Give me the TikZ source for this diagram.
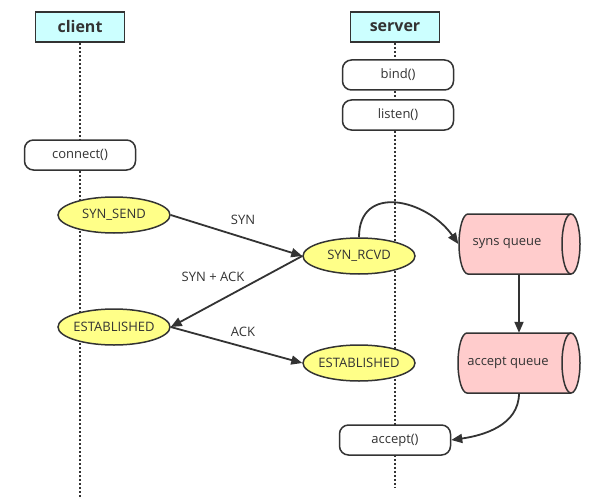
\documentclass[tikz,border=0pt]{standalone}
\usepackage{fontspec}
\setmainfont{Open Sans}
\usetikzlibrary{arrows.meta,shapes.geometric,backgrounds}
\definecolor{ink}{HTML}{333333}
\definecolor{headcyan}{HTML}{CCFFFF}
\definecolor{stateyellow}{HTML}{FFFF88}
\definecolor{queuepink}{HTML}{FFCCCC}
\begin{document}
\begin{tikzpicture}[x=1pt,y=-1pt,
  font=\fontsize{13}{15}\selectfont, text=ink,
  head/.style={draw=ink, line width=1.8pt, fill=headcyan, minimum width=89pt, minimum height=30pt, inner sep=0pt, font=\fontsize{16}{18}\selectfont\bfseries},
  call/.style={draw=ink, line width=1.5pt, fill=white, rounded corners=9pt, minimum width=111pt, minimum height=30pt, inner sep=0pt},
  state/.style={ellipse, draw=ink, line width=1.5pt, fill=stateyellow, minimum width=112pt, minimum height=36pt, inner xsep=-5pt, inner ysep=0pt},
  qbox/.style={minimum width=121pt, minimum height=60pt, inner sep=0pt},
  queue/.style={draw=ink, line width=1.5pt, fill=queuepink},
  msg/.style={draw=ink, line width=1.8pt, -{Triangle[length=11pt,width=9pt]}},
  life/.style={draw=ink, line width=1.8pt, dash pattern=on 1.8pt off 2.2pt},
  lbl/.style={inner sep=1pt}]
\useasboundingbox (0,0) rectangle (612,500);

% lifeline headers
\node[head] (client) at (80,27) {client};
\node[head] (server) at (395,27) {server};

% calls
\node[call] (bind) at (398,75) {bind()};
\node[call] (listen) at (398,115) {listen()};
\node[call] (connect) at (80,155) {connect()};
\node[call] (accept) at (395,440) {accept()};

% states
\node[state] (ssend) at (114,215) {SYN\_SEND};
\node[state] (rcvd) at (359,256) {SYN\_RCVD};
\node[state] (cest) at (114,327) {ESTABLISHED};
\node[state] (sest) at (359,363) {ESTABLISHED};

% queues
\node[qbox] (synsq) at (519,244) {};
\node[qbox] (accq) at (519,363) {};
\filldraw[queue] (468,214) -- (571,214) arc[start angle=90,end angle=-90,x radius=9pt,y radius=30pt]
  -- (468,274) arc[start angle=270,end angle=90,x radius=9pt,y radius=30pt] -- cycle;
\draw[queue,fill=none] (571,214) arc[start angle=90,end angle=270,x radius=9pt,y radius=30pt];
\filldraw[queue] (467,333) -- (571,333) arc[start angle=90,end angle=-90,x radius=9pt,y radius=30pt]
  -- (467,393) arc[start angle=270,end angle=90,x radius=9pt,y radius=30pt] -- cycle;
\draw[queue,fill=none] (571,333) arc[start angle=90,end angle=270,x radius=9pt,y radius=30pt];
\node (synst) at (507,244) {syns queue};
\node (accqt) at (508,363) {accept queue};

% lifelines
\coordinate (clientEnd) at (80,498);
\coordinate (serverEnd) at (395,488);
\begin{scope}[on background layer]
\draw[life] (client.south) -- (clientEnd);
\draw[life] (server.south) -- (serverEnd);
\end{scope}

% messages
\draw[msg] (ssend.east) -- (rcvd.west);
\draw[msg] (rcvd.west) -- (cest.east);
\draw[msg] (cest.east) -- (sest.west);
\node[lbl] (lsyn) at (243,220) {SYN};
\node[lbl] (lsynack) at (213,277) {SYN + ACK};
\node[lbl] (lack) at (243,332) {ACK};

% queue flow
\draw[msg] (rcvd.north) to[out=90,in=125,looseness=1.4] (synsq.west);
\draw[msg] (synsq.south) -- (accq.north);
\draw[msg] (accq.south) to[out=-90,in=8] (accept.east);
\end{tikzpicture}
\end{document}
